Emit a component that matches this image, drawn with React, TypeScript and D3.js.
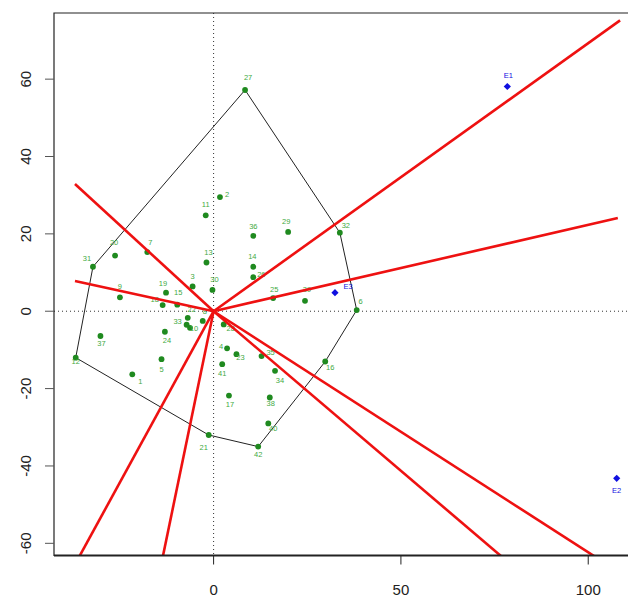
import React from 'react';
import * as d3 from 'd3';

// ---- data ----
const pointIds = ['1','2','3','4','5','6','7','8','9','10','11','12','13','14','15','16','17','18','19','20','21','22','23','24','25','26','27','28','29','30','31','32','33','34','35','36','37','38','39','40','41','42'];
const pointX = [-21.7,1.7,-5.6,3.6,-13.9,38.2,-17.7,-2.9,-25.0,-6.3,-2.1,-36.8,-1.9,10.6,-9.7,29.8,4.1,-13.6,-12.7,-26.3,-1.3,-6.9,6.1,-13.0,15.9,10.6,8.4,2.7,19.9,-0.3,-32.2,33.7,-7.2,16.4,12.8,10.6,-30.2,15.0,24.4,14.6,2.3,11.9];
const pointY = [-16.3,29.5,6.4,-9.6,-12.4,0.3,15.3,-2.5,3.6,-4.3,24.8,-12.0,12.6,11.5,1.7,-13.0,-21.8,1.6,4.8,14.4,-32.0,-1.7,-11.1,-5.3,3.4,8.8,57.2,-3.4,20.5,5.5,11.5,20.3,-3.5,-15.4,-11.6,19.5,-6.4,-22.3,2.7,-29.0,-13.7,-35.0];

const extraIds = ['E1','E2','E3'];
const extraX = [78.4,107.6,32.4];
const extraY = [58.1,-43.2,4.8];

// ray end points (rays start at origin)
const rayX = [108.5,107.9,-37.0,-37.0,-37.3,-14.1,80.0,105.9];
const rayY = [75.2,24.1,32.9,7.8,-66,-66,-66,-66];

const xTicks = [0,50,100];
const yTicks = [-60,-40,-20,0,20,40,60];

// label placement (pixel offsets from the point)
const labelDx = [8,7,0,-6,0,4,3,2,0,4,0,0,2,-1,1,5,1,-8,-3,-1,-5,4,4,2,1,8,3,7,-2,2,-6,6,-9,5,9,0,1,1,2,5,0,0];
const labelDy = [7,-3,-10,-2,10,-9,-10,-9,-11,1,-11,4,-10,-10,-12,6,9,-6,-9,-13,12,-8,3,9,-9,-3,-12,4,-10,-10,-8,-7,-3,10,-4,-9,8,6,-11,5,9,8];
const extraDx = [1,0,13];
const extraDy = [-11,12,-6];

const W = 628, H = 597;
const FONT = '"Liberation Sans", Arial, Helvetica, sans-serif';

export default function App() {
  const x = d3.scaleLinear().domain([-42.6, 114.3]).range([54, 641.8]);
  const y = d3.scaleLinear().domain([-63.15, 77.1]).range([555.5, 13]);
  const [x0, x1] = x.range();
  const [y0, y1] = y.range();

  const pts: [number, number][] = pointX.map((v, i) => [x(v), y(pointY[i])]);
  const hull = d3.polygonHull(pts) || [];
  const hullPath = d3.line()(hull.concat(hull.length ? [hull[0]] : [])) || '';

  const green = '#1f8a1f';
  const labelGreen = '#3faa3f';
  const blue = '#1010e0';

  return (
    <svg width={W} height={H} style={{ position: 'absolute', left: 0, top: 0, background: '#fff' }}>
      <defs>
        <clipPath id="plotclip">
          <rect x={x0} y={y1} width={x1 - x0} height={y0 - y1} />
        </clipPath>
      </defs>
      <rect x={0} y={0} width={W} height={H} fill="#fff" />
      {/* reference dotted lines */}
      <line x1={x(0)} x2={x(0)} y1={y1} y2={y0} stroke="#333" strokeWidth={1} strokeDasharray="1,3" />
      <line x1={x0} x2={x1} y1={y(0)} y2={y(0)} stroke="#333" strokeWidth={1} strokeDasharray="1,3" />

      {/* hull */}
      <path d={hullPath} fill="none" stroke="#222" strokeWidth={1} />

      {/* points */}
      {pts.map((p, i) => (
        <circle key={'p' + i} cx={p[0]} cy={p[1]} r={2.9} fill={green} />
      ))}
      {pts.map((p, i) => (
        <text key={'t' + i} x={p[0] + labelDx[i]} y={p[1] + labelDy[i]} fontSize={7.5} fontFamily={FONT}
          fill={labelGreen} textAnchor="middle" dominantBaseline="central">{pointIds[i]}</text>
      ))}

      {/* extra points */}
      {extraX.map((v, i) => {
        const cx = x(v), cy = y(extraY[i]);
        const s = 3.6;
        return (
          <g key={'e' + i}>
            <path d={`M${cx},${cy - s}L${cx + s},${cy}L${cx},${cy + s}L${cx - s},${cy}Z`} fill={blue} />
            <text x={cx + extraDx[i]} y={cy + extraDy[i]} fontSize={7.5} fontFamily={FONT} fill={blue}
              textAnchor="middle" dominantBaseline="central">{extraIds[i]}</text>
          </g>
        );
      })}

      {/* rays */}
      <g clipPath="url(#plotclip)">
        {rayX.map((v, i) => (
          <line key={'r' + i} x1={x(0)} y1={y(0)} x2={x(v)} y2={y(rayY[i])} stroke="#ee1111" strokeWidth={2.6} />
        ))}
      </g>

      {/* box */}
      <path d={`M${x1},${y1}L${x0},${y1}L${x0},${y0}L${x1},${y0}`} fill="none" stroke="#222" strokeWidth={1.2} />
      <line x1={x0} x2={x1} y1={y0} y2={y0} stroke="#222" strokeWidth={2} />

      {/* y axis */}
      {yTicks.map((t) => (
        <g key={'y' + t}>
          <line x1={x0 - 9} x2={x0} y1={y(t)} y2={y(t)} stroke="#555" strokeWidth={1} />
          <text transform={`translate(${25},${y(t)}) rotate(-90)`} fontSize={15} fontFamily={FONT} fill="#222"
            textAnchor="middle" dominantBaseline="central">{t}</text>
        </g>
      ))}
      {/* x axis */}
      {xTicks.map((t) => (
        <g key={'x' + t}>
          <line x1={x(t)} x2={x(t)} y1={y0} y2={y0 + 9} stroke="#222" strokeWidth={1} />
          <text x={x(t)} y={589} fontSize={15} fontFamily={FONT} fill="#222" textAnchor="middle"
            dominantBaseline="central">{t}</text>
        </g>
      ))}
    </svg>
  );
}
